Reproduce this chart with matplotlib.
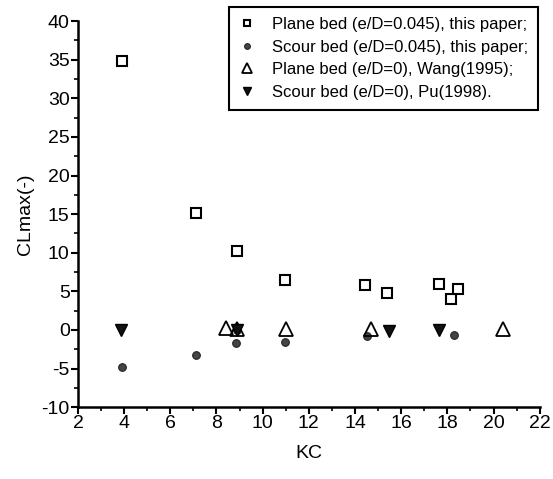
import numpy as np
import matplotlib
matplotlib.use('Agg')
import matplotlib.pyplot as plt
from matplotlib.ticker import MultipleLocator

plt.rcParams['font.family'] = ['Liberation Sans', 'DejaVu Sans']
plt.rcParams['axes.unicode_minus'] = False

# plane bed (e/D=0.045), this paper
plane_kc = [3.9, 7.1, 8.9, 10.95, 14.45, 15.4, 17.65, 18.15, 18.45]
plane_cl = [34.8, 15.1, 10.2, 6.5, 5.8, 4.8, 6.0, 4.0, 5.3]
# scour bed (e/D=0.045), this paper
scour_kc = [3.9, 7.1, 8.85, 8.9, 10.95, 14.5, 18.3]
scour_cl = [-4.8, -3.3, -1.7, 0.0, -1.6, -0.8, -0.7]
# plane bed (e/D=0), Wang(1995)
wang_kc = [8.4, 8.9, 11.0, 14.7, 20.4]
wang_cl = [0.2, 0.1, 0.1, 0.1, 0.1]
# scour bed (e/D=0), Pu(1998)
pu_kc = [3.85, 8.9, 15.45, 17.65]
pu_cl = [0.0, 0.0, -0.1, 0.0]

labels = ['Plane bed (e/D=0.045), this paper;',
          'Scour bed (e/D=0.045), this paper;',
          'Plane bed (e/D=0), Wang(1995);',
          'Scour bed (e/D=0), Pu(1998).']

fig = plt.figure(figsize=(5.53, 4.79), dpi=100)
ax = fig.add_axes([0.141, 0.150, 0.835, 0.806])

ax.plot(plane_kc, plane_cl, 's', ms=6.5, mfc='white', mec='black', mew=1.5, ls='none', label=labels[0])
ax.plot(scour_kc, scour_cl, 'o', ms=5.5, mfc='#444444', mec='#222222', mew=0.8, ls='none', label=labels[1])
ax.plot(wang_kc, wang_cl, '^', ms=10, mfc='none', mec='black', mew=1.3, ls='none', label=labels[2])
ax.plot(pu_kc, pu_cl, 'v', ms=8, mfc='#111111', mec='black', mew=1, ls='none', label=labels[3])

ax.set_xlim(2, 22)
ax.set_ylim(-10, 40)
ax.xaxis.set_major_locator(MultipleLocator(2))
ax.xaxis.set_minor_locator(MultipleLocator(1))
ax.yaxis.set_major_locator(MultipleLocator(5))
ax.yaxis.set_minor_locator(MultipleLocator(2.5))
ax.tick_params(which='major', direction='out', length=5, width=1.5, labelsize=14, pad=1)
ax.tick_params(which='minor', direction='out', length=3, width=1.2)

for s in ['top', 'right']:
    ax.spines[s].set_visible(False)
for s in ['left', 'bottom']:
    ax.spines[s].set_linewidth(1.8)

ax.set_xlabel('KC', fontsize=14, labelpad=9)
ax.set_ylabel('CLmax(-)', fontsize=14, labelpad=5)

leg = ax.legend(loc='upper right', bbox_to_anchor=(0.973, 0.985), bbox_transform=fig.transFigure,
                fontsize=12, frameon=True, fancybox=False, edgecolor='black', framealpha=1,
                handlelength=1.0, handletextpad=1.0, labelspacing=0.45, borderpad=0.6,
                borderaxespad=0)
leg.get_frame().set_linewidth(1.5)
for h in leg.legend_handles:
    h.set_markersize(h.get_markersize() * 0.75)

fig.savefig('out.png', dpi=100)
